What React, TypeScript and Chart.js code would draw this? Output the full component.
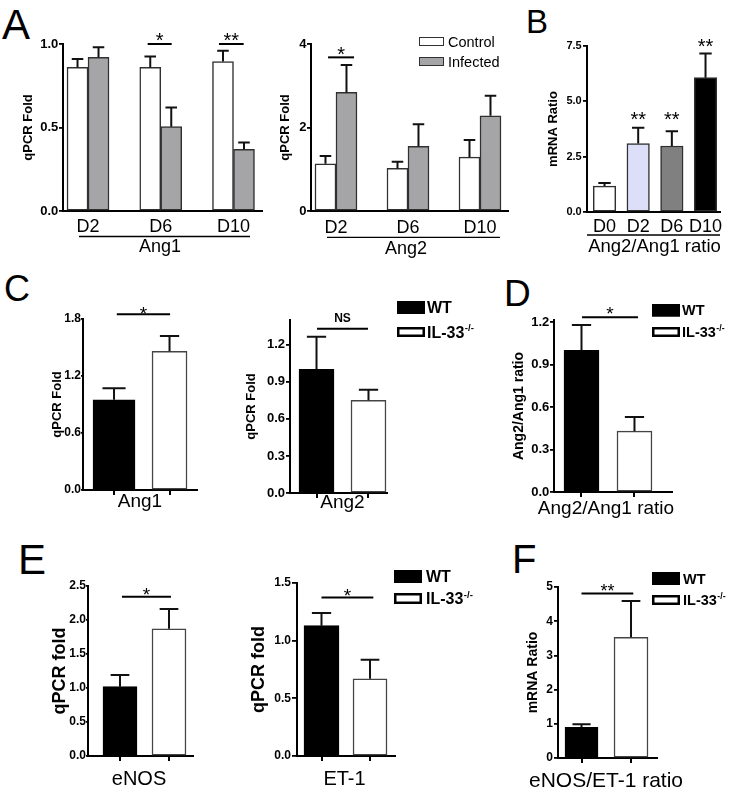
import React, { useEffect, useRef } from 'react';
import { Chart, registerables } from 'chart.js';

Chart.register(...registerables);

const FONT = "'Liberation Sans', Arial, Helvetica, sans-serif";
Chart.defaults.font.family = FONT;
Chart.defaults.color = '#000';

// ---------------- data ----------------
const dayLabelsA = ['D2', 'D6', 'D10'];
const seriesA = ['Control', 'Infected'];
const ang1Control = [0.86, 0.86, 0.895];
const ang1ControlErr = [0.05, 0.065, 0.065];
const ang1Infected = [0.92, 0.505, 0.37];
const ang1InfectedErr = [0.06, 0.115, 0.04];
const ang2Control = [1.13, 1.02, 1.29];
const ang2ControlErr = [0.19, 0.16, 0.41];
const ang2Infected = [2.84, 1.55, 2.28];
const ang2InfectedErr = [0.66, 0.53, 0.48];

const dayLabelsB = ['D0', 'D2', 'D6', 'D10'];
const ratioB = [1.17, 3.09, 2.98, 6.07];
const ratioBErr = [0.14, 0.72, 0.67, 1.09];
const ratioBMarks = ['', '**', '**', '**'];
const ratioBMarkLevel = [0, 4.39, 4.39, 7.69];

const genotypes = ['WT', 'IL-33'];
const genotypeSup = ['', '-/-'];
const cAng1 = [0.95, 1.46];
const cAng1Err = [0.12, 0.16];
const cAng2 = [1.0, 0.75];
const cAng2Err = [0.265, 0.085];
const dRatio = [1.0, 0.43];
const dRatioErr = [0.18, 0.1];
const eEnos = [1.02, 1.87];
const eEnosErr = [0.17, 0.29];
const eEt1 = [1.13, 0.67];
const eEt1Err = [0.11, 0.165];
const fRatio = [0.9, 3.53];
const fRatioErr = [0.09, 1.06];

// tick values and labels
const ticksA1 = [0, 0.5, 1.0];
const ticksA1Labels = ['0.0', '0.5', '1.0'];
const ticksA2 = [0, 2, 4];
const ticksA2Labels = ['0', '2', '4'];
const ticksB = [0, 2.5, 5, 7.5];
const ticksBLabels = ['0.0', '2.5', '5.0', '7.5'];
const ticksC1 = [0, 0.6, 1.2, 1.8];
const ticksC1Labels = ['0.0', '0.6', '1.2', '1.8'];
const ticks03 = [0, 0.3, 0.6, 0.9, 1.2];
const ticks03Labels = ['0.0', '0.3', '0.6', '0.9', '1.2'];
const ticksE1 = [0, 0.5, 1.0, 1.5, 2.0, 2.5];
const ticksE1Labels = ['0.0', '0.5', '1.0', '1.5', '2.0', '2.5'];
const ticksE2 = [0, 0.5, 1.0, 1.5];
const ticksE2Labels = ['0.0', '0.5', '1.0', '1.5'];
const ticksF = [0, 1, 2, 3, 4, 5];
const ticksFLabels = ['0', '1', '2', '3', '4', '5'];

// significance comparisons: x in category units, level in data units
const sigA1 = [
  { from: 0.82, to: 1.15, level: 1.0, text: '*' },
  { from: 1.8, to: 2.14, level: 1.0, text: '**' },
];
const sigA2 = [{ from: -0.11, to: 0.25, level: 3.68, text: '*' }];
const sigC1 = [{ from: 0.05, to: 1.01, level: 1.85, text: '*' }];
const sigC2 = [{ from: 0.01, to: 0.99, level: 1.33, text: 'NS' }];
const sigD = [{ from: 0.01, to: 1.066, level: 1.235, text: '*' }];
const sigE1 = [{ from: 0.04, to: 1.04, level: 2.343, text: '*' }];
const sigE2 = [{ from: 0.0, to: 1.068, level: 1.374, text: '*' }];
const sigF = [{ from: 0.0, to: 1.046, level: 4.81, text: '**' }];

// ---------------- styles ----------------
const GRAY = '#a5a5a8';
const EDGE = '#303030';
const ratioColors = ['#ffffff', '#dcdff7', '#808080', '#000000'];
const genoFill = ['#000000', '#ffffff'];
const genoEdge = ['#000000', '#444444'];
const genoEdgeW = [1, 1.5];

const idx = (arr: any[]) => arr.map((_, i) => i);

function barSet(label: string, xs: number[], values: number[], errs: number[], fill: any, edge: any, thickness: number, edgeW: number, grouped = true, sup = '') {
  return {
    label,
    sup,
    data: values.map((v, i) => ({ x: xs[i], y: v })),
    errors: errs,
    backgroundColor: fill,
    borderColor: edge,
    borderWidth: edgeW,
    barThickness: thickness,
    grouped,
    borderSkipped: false,
  };
}

function genotypeSets(values: number[], errs: number[], thick: number[]) {
  return genotypes.map((g, i) =>
    barSet(g, [i], [values[i]], [errs[i]], genoFill[i], genoEdge[i], thick[i], genoEdgeW[i], false, genotypeSup[i])
  );
}

function genoLegend(x: number, y: number[], h: number[], textX: number, size: number) {
  return { x, y, h, w: 28, textX, size, bold: true, stroke: [1, 2.5], strokeColor: ['#000', '#000'] };
}

// ---------------- chart specs ----------------
const specs: any[] = [
  {
    key: 'A1', area: [63, 44, 262, 211], xRange: [-0.344, 2.392], yMax: 1.0,
    yTicks: ticksA1, yTickLabels: ticksA1Labels, yTickSize: 13, yTickLen: 4, yTickPad: 0.7,
    xTicks: idx(dayLabelsA), xTickLabels: dayLabelsA, xTickMarks: false, xTickSize: 18, xTickPad: 5.7,
    yTitle: 'qPCR Fold', yTitleX: 28.5, yTitleSize: 13,
    xTitle: 'Ang1', xTitleY: 246, xTitleCx: 160, xTitleSize: 18,
    padTop: 22, padRight: 2,
    datasets: [
      barSet(seriesA[0], idx(dayLabelsA), ang1Control, ang1ControlErr, '#ffffff', EDGE, 21, 1.5),
      barSet(seriesA[1], idx(dayLabelsA), ang1Infected, ang1InfectedErr, GRAY, EDGE, 21, 1.5),
    ],
    sig: sigA1, sigGap: 9, sigSize: 20,
    underline: { from: -0.124, to: 2.227, dy: 25.5 },
  },
  {
    key: 'A2', area: [311, 44, 508, 211], xRange: [-0.347, 2.389], yMax: 4,
    yTicks: ticksA2, yTickLabels: ticksA2Labels, yTickSize: 13, yTickLen: 4, yTickPad: 0.5,
    xTicks: idx(dayLabelsA), xTickLabels: dayLabelsA, xTickMarks: false, xTickSize: 18, xTickPad: 6.5,
    yTitle: 'qPCR Fold', yTitleX: 285, yTitleSize: 13,
    xTitle: 'Ang2', xTitleY: 247.5, xTitleCx: 406, xTitleSize: 18,
    padTop: 22, padRight: 2,
    datasets: [
      barSet(seriesA[0], idx(dayLabelsA), ang2Control, ang2ControlErr, '#ffffff', EDGE, 21, 1.5),
      barSet(seriesA[1], idx(dayLabelsA), ang2Infected, ang2InfectedErr, GRAY, EDGE, 21, 1.5),
    ],
    sig: sigA2, sigGap: 8, sigSize: 20,
    underline: { from: -0.125, to: 2.278, dy: 26.3 },
    legend: { x: 419, y: [37, 57], h: [9, 9], w: 25, textX: 448, size: 14.5, bold: false, stroke: [1, 1], strokeColor: [EDGE, EDGE] },
  },
  {
    key: 'B', area: [587, 46, 720, 212], xRange: [-0.52, 3.43], yMax: 7.5,
    yTicks: ticksB, yTickLabels: ticksBLabels, yTickSize: 11, yTickLen: 4, yTickPad: 1.3,
    xTicks: idx(dayLabelsB), xTickLabels: dayLabelsB, xTickMarks: false, xTickSize: 18, xTickPad: 4,
    yTitle: 'mRNA Ratio', yTitleX: 553, yTitleSize: 13,
    xTitle: 'Ang2/Ang1 ratio', xTitleY: 245, xTitleCx: 654.5, xTitleSize: 18.5,
    padTop: 16, padRight: 14,
    datasets: [barSet('ratio', idx(dayLabelsB), ratioB, ratioBErr, ratioColors, EDGE, 22.5, 1.5)],
    sig: [], sigGap: 8, sigSize: 20,
    marks: { xs: idx(dayLabelsB), text: ratioBMarks, level: ratioBMarkLevel, size: 20 },
    underline: { from: -0.52, to: 3.43, dy: 23 },
  },
  {
    key: 'C1', area: [83, 319, 197, 490], xRange: [-0.559, 1.495], yMax: 1.8,
    yTicks: ticksC1, yTickLabels: ticksC1Labels, yTickSize: 12, yTickLen: 2, yTickPad: 0,
    xTicks: idx(genotypes), xTickLabels: null, xTickMarks: true, xTickSize: 12, xTickPad: 0,
    yTitle: 'qPCR Fold', yTitleX: 57, yTitleSize: 13,
    xTitle: 'Ang1', xTitleY: 500.5, xTitleSize: 19,
    padTop: 25, padRight: 4,
    datasets: genotypeSets(cAng1, cAng1Err, [42, 35]),
    sig: sigC1, sigGap: 5, sigSize: 19,
  },
  {
    key: 'C2', area: [290, 320, 387, 493], xRange: [-0.51, 1.356], yMax: 1.4,
    yTicks: ticks03, yTickLabels: ticks03Labels, yTickSize: 13, yTickLen: 4, yTickPad: 1,
    xTicks: idx(genotypes), xTickLabels: null, xTickMarks: true, xTickSize: 12, xTickPad: 0,
    yTitle: 'qPCR Fold', yTitleX: 251, yTitleSize: 13,
    xTitle: 'Ang2', xTitleY: 501, xTitleCx: 342.5, xTitleSize: 19,
    padTop: 25, padRight: 95,
    datasets: genotypeSets(cAng2, cAng2Err, [35, 35]),
    sig: sigC2, sigGap: 11, sigSize: 12,
    legend: genoLegend(397, [301, 327], [13, 10], 427, 16),
  },
  {
    key: 'D', area: [554, 320, 672, 492], xRange: [-0.519, 1.708], yMax: 1.215,
    yTicks: ticks03, yTickLabels: ticks03Labels, yTickSize: 13, yTickLen: 4, yTickPad: 0.7,
    xTicks: idx(genotypes), xTickLabels: null, xTickMarks: true, xTickSize: 12, xTickPad: 0,
    yTitle: 'Ang2/Ang1 ratio', yTitleX: 519, yTitleSize: 14,
    xTitle: 'Ang2/Ang1 ratio', xTitleY: 507, xTitleCx: 606, xTitleSize: 19,
    padTop: 25, padRight: 70,
    datasets: genotypeSets(dRatio, dRatioErr, [35, 35]),
    sig: sigD, sigGap: 8, sigSize: 19,
    legend: genoLegend(652, [304, 327], [12.5, 10], 682, 14.5),
  },
  {
    key: 'E1', area: [88, 586, 193, 756], xRange: [-0.653, 1.49], yMax: 2.5,
    yTicks: ticksE1, yTickLabels: ticksE1Labels, yTickSize: 12, yTickLen: 2, yTickPad: 0,
    xTicks: idx(genotypes), xTickLabels: null, xTickMarks: true, xTickSize: 12, xTickPad: 0,
    yTitle: 'qPCR fold', yTitleX: 60, yTitleSize: 18,
    xTitle: 'eNOS', xTitleY: 778, xTitleCx: 139, xTitleSize: 20,
    padTop: 25, padRight: 4,
    datasets: genotypeSets(eEnos, eEnosErr, [34, 34]),
    sig: sigE1, sigGap: 7, sigSize: 19,
  },
  {
    key: 'E2', area: [297, 583, 395, 756], xRange: [-0.505, 1.515], yMax: 1.5,
    yTicks: ticksE2, yTickLabels: ticksE2Labels, yTickSize: 12, yTickLen: 5, yTickPad: 1,
    xTicks: idx(genotypes), xTickLabels: null, xTickMarks: true, xTickSize: 12, xTickPad: 0,
    yTitle: 'qPCR fold', yTitleX: 259, yTitleSize: 18,
    xTitle: 'ET-1', xTitleY: 777.5, xTitleCx: 344.5, xTitleSize: 20,
    padTop: 25, padRight: 90,
    datasets: genotypeSets(eEt1, eEt1Err, [35, 34]),
    sig: sigE2, sigGap: 7, sigSize: 19,
    legend: genoLegend(394, [570, 593], [13, 11], 426, 16),
  },
  {
    key: 'F', area: [558, 587, 657, 758], xRange: [-0.475, 1.525], yMax: 5,
    yTicks: ticksF, yTickLabels: ticksFLabels, yTickSize: 12, yTickLen: 4, yTickPad: 1,
    xTicks: idx(genotypes), xTickLabels: null, xTickMarks: true, xTickSize: 12, xTickPad: 0,
    yTitle: 'mRNA Ratio', yTitleX: 533, yTitleSize: 14,
    xTitle: 'eNOS/ET-1 ratio', xTitleY: 779, xTitleCx: 606, xTitleSize: 21,
    padTop: 25, padRight: 85,
    datasets: genotypeSets(fRatio, fRatioErr, [33, 34]),
    sig: sigF, sigGap: 7, sigSize: 18,
    legend: genoLegend(652, [572, 595], [13, 10], 683, 14.5),
  },
];

const panelLetters = ['A', 'B', 'C', 'D', 'E', 'F'];
const letterPos = [
  { x: 2, base: 40, size: 42 },
  { x: 526, base: 33.3, size: 33 },
  { x: 4, base: 301.5, size: 36 },
  { x: 504, base: 306.7, size: 37 },
  { x: 18, base: 575, size: 42 },
  { x: 512, base: 573.3, size: 40 },
];

// ---------------- plugin ----------------
const decorPlugin = {
  id: 'decor',
  afterDraw(chart: any, _args: any, opts: any) {
    const ctx = chart.ctx;
    const xs = chart.scales.x;
    const ys = chart.scales.y;
    const ox = opts.originX;
    const oy = opts.originY;
    ctx.save();
    // error bars (upper only)
    chart.data.datasets.forEach((ds: any, di: number) => {
      if (!ds.errors) return;
      const meta = chart.getDatasetMeta(di);
      meta.data.forEach((el: any, i: number) => {
        const v = ds.data[i].y;
        const top = ys.getPixelForValue(v + ds.errors[i]);
        const w = el.width * 0.55;
        ctx.strokeStyle = '#111';
        ctx.lineWidth = 2;
        ctx.beginPath();
        ctx.moveTo(el.x, el.y);
        ctx.lineTo(el.x, top);
        ctx.moveTo(el.x - w / 2, top);
        ctx.lineTo(el.x + w / 2, top);
        ctx.stroke();
      });
    });
    // significance brackets
    (opts.sig || []).forEach((s: any) => {
      const x1 = xs.getPixelForValue(s.from);
      const x2 = xs.getPixelForValue(s.to);
      const ly = ys.getPixelForValue(s.level);
      ctx.strokeStyle = '#000';
      ctx.lineWidth = 2;
      ctx.beginPath();
      ctx.moveTo(x1, ly);
      ctx.lineTo(x2, ly);
      ctx.stroke();
      ctx.fillStyle = '#000';
      ctx.textAlign = 'center';
      ctx.textBaseline = 'alphabetic';
      if (s.text.startsWith('*')) {
        ctx.font = `${opts.sigSize}px ${FONT}`;
        ctx.fillText(s.text, (x1 + x2) / 2, ly - opts.sigGap + 0.58 * opts.sigSize);
      } else {
        ctx.font = `bold ${opts.sigSize}px ${FONT}`;
        ctx.fillText(s.text, (x1 + x2) / 2, ly - 7);
      }
    });
    // per-bar marks
    if (opts.marks) {
      const m = opts.marks;
      ctx.fillStyle = '#000';
      ctx.textAlign = 'center';
      ctx.textBaseline = 'alphabetic';
      ctx.font = `${m.size}px ${FONT}`;
      m.text.forEach((t: string, i: number) => {
        if (!t) return;
        ctx.fillText(t, xs.getPixelForValue(m.xs[i]), ys.getPixelForValue(m.level[i]) + 0.58 * m.size);
      });
    }
    // group underline
    if (opts.underline) {
      const u = opts.underline;
      const y = chart.chartArea.bottom + u.dy;
      ctx.strokeStyle = '#000';
      ctx.lineWidth = 1.3;
      ctx.beginPath();
      ctx.moveTo(xs.getPixelForValue(u.from), y);
      ctx.lineTo(xs.getPixelForValue(u.to), y);
      ctx.stroke();
    }
    // x-axis title (drawn without width squeezing)
    if (opts.xTitle) {
      const t = opts.xTitle;
      const cx = t.cx != null ? t.cx - ox : (chart.chartArea.left + chart.chartArea.right) / 2;
      ctx.fillStyle = '#000';
      ctx.textAlign = 'center';
      ctx.textBaseline = 'alphabetic';
      ctx.font = `${t.size}px ${FONT}`;
      ctx.fillText(t.text, cx, t.y - oy + 0.358 * t.size);
    }
    // legend
    if (opts.legend) {
      const lg = opts.legend;
      chart.data.datasets.forEach((ds: any, i: number) => {
        const bx = lg.x - ox;
        const by = lg.y[i] - oy;
        const bh = lg.h[i];
        ctx.fillStyle = ds.backgroundColor;
        ctx.fillRect(bx, by, lg.w, bh);
        const sw = lg.stroke[i];
        ctx.lineWidth = sw;
        ctx.strokeStyle = lg.strokeColor[i];
        ctx.strokeRect(bx + sw / 2, by + sw / 2, lg.w - sw, bh - sw);
        const base = by + bh / 2 + 0.358 * lg.size;
        ctx.fillStyle = '#000';
        ctx.textAlign = 'left';
        ctx.textBaseline = 'alphabetic';
        ctx.font = `${lg.bold ? 'bold ' : ''}${lg.size}px ${FONT}`;
        ctx.fillText(ds.label, lg.textX - ox, base);
        if (ds.sup) {
          const tw = ctx.measureText(ds.label).width;
          ctx.font = `${lg.bold ? 'bold ' : ''}${lg.size * 0.6}px ${FONT}`;
          ctx.fillText(ds.sup, lg.textX - ox + tw + 0.5, base - 0.4 * lg.size);
        }
      });
    }
    ctx.restore();
  },
};

function geometry(s: any) {
  const [L, T, R, B] = s.area;
  const lhY = s.yTitleSize * 1.2;
  const left = Math.round(s.yTitleX - lhY / 2 - 2);
  const top = T - s.padTop;
  const xAxisH = Math.round(s.xTitleY - B + s.xTitleSize * 0.6 + 2);
  return {
    left,
    top,
    w: R + s.padRight - left,
    h: B + xAxisH - top,
    yAxisW: L - left,
    xAxisH,
    yTitlePad: s.yTitleX - lhY / 2 - left,
  };
}

function buildConfig(s: any, g: any): any {
  return {
    type: 'bar',
    data: { datasets: s.datasets },
    plugins: [decorPlugin],
    options: {
      responsive: false,
      animation: false,
      devicePixelRatio: 1,
      layout: { padding: { top: s.padTop, right: s.padRight, left: 0, bottom: 0 } },
      plugins: {
        legend: { display: false },
        tooltip: { enabled: false },
        decor: {
          originX: g.left,
          originY: g.top,
          sig: s.sig,
          sigGap: s.sigGap,
          sigSize: s.sigSize,
          marks: s.marks,
          underline: s.underline,
          legend: s.legend,
          xTitle: { text: s.xTitle, y: s.xTitleY, cx: s.xTitleCx, size: s.xTitleSize },
        },
      },
      scales: {
        x: {
          type: 'linear',
          min: s.xRange[0],
          max: s.xRange[1],
          offset: false,
          z: 1,
          afterBuildTicks: (sc: any) => {
            sc.ticks = s.xTicks.map((v: number) => ({ value: v }));
          },
          afterFit: (sc: any) => {
            sc.height = g.xAxisH;
          },
          ticks: {
            display: !!s.xTickLabels,
            autoSkip: false,
            maxRotation: 0,
            padding: s.xTickPad,
            color: '#000',
            font: { size: s.xTickSize },
            callback: (_v: any, i: number) => (s.xTickLabels ? s.xTickLabels[i] : ''),
          },
          grid: {
            display: true,
            offset: false,
            drawOnChartArea: false,
            drawTicks: s.xTickMarks,
            tickLength: 5,
            lineWidth: 2,
            color: '#000',
          },
          border: { display: true, color: '#000', width: 2 },
          title: { display: false },
        },
        y: {
          type: 'linear',
          min: 0,
          max: s.yMax,
          z: 1,
          afterBuildTicks: (sc: any) => {
            sc.ticks = s.yTicks.map((v: number) => ({ value: v }));
          },
          afterFit: (sc: any) => {
            sc.width = g.yAxisW;
          },
          ticks: {
            autoSkip: false,
            padding: s.yTickPad,
            color: '#000',
            font: { size: s.yTickSize, weight: 'bold' },
            callback: (_v: any, i: number) => s.yTickLabels[i],
          },
          grid: {
            display: true,
            drawOnChartArea: false,
            drawTicks: true,
            tickLength: s.yTickLen,
            lineWidth: 1.8,
            color: '#000',
          },
          border: { display: true, color: '#000', width: 2 },
          title: {
            display: true,
            text: s.yTitle,
            color: '#000',
            font: { size: s.yTitleSize, weight: 'bold' },
            padding: { top: g.yTitlePad, bottom: 0 },
          },
        },
      },
    },
  };
}

function BarPanel({ spec }: { spec: any }) {
  const ref = useRef<HTMLCanvasElement | null>(null);
  const g = geometry(spec);
  useEffect(() => {
    if (!ref.current) return;
    const chart = new Chart(ref.current, buildConfig(spec, g));
    return () => chart.destroy();
  }, []);
  return (
    <canvas
      ref={ref}
      width={g.w}
      height={g.h}
      style={{ position: 'absolute', left: g.left, top: g.top, width: g.w, height: g.h }}
    />
  );
}

export default function App() {
  return (
    <div
      style={{
        position: 'absolute',
        left: 0,
        top: 0,
        width: 746,
        height: 795,
        background: '#ffffff',
        overflow: 'hidden',
        fontFamily: FONT,
      }}
    >
      {panelLetters.map((l, i) => (
        <div
          key={l}
          style={{
            position: 'absolute',
            left: letterPos[i].x,
            top: letterPos[i].base - 0.8465 * letterPos[i].size,
            fontSize: letterPos[i].size,
            lineHeight: `${letterPos[i].size}px`,
            fontFamily: FONT,
            color: '#000',
          }}
        >
          {l}
        </div>
      ))}
      {specs.map((s) => (
        <BarPanel key={s.key} spec={s} />
      ))}
    </div>
  );
}
